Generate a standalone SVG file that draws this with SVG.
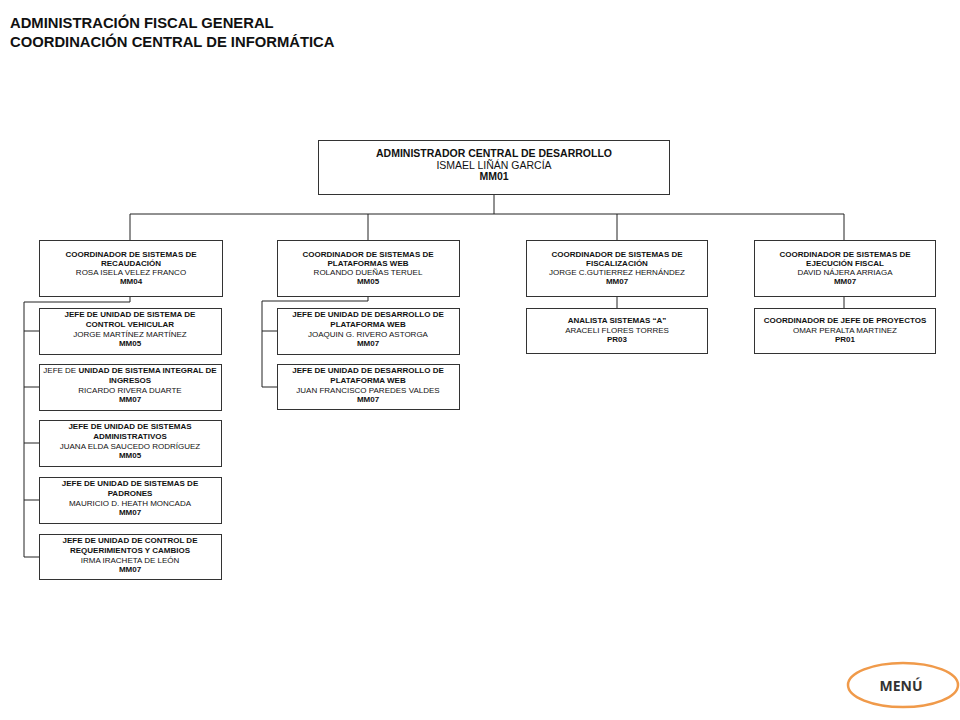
<svg xmlns="http://www.w3.org/2000/svg" width="960" height="720" viewBox="0 0 960 720">
<style>
text{font-family:"Liberation Sans",Arial,sans-serif;fill:#111;}
.t{font-size:14.8px;font-weight:bold;}
.b{font-size:8px;font-weight:bold;text-anchor:middle;}
.r{font-size:8px;text-anchor:middle;}
.bb{font-size:10.5px;font-weight:bold;text-anchor:middle;}
.rb{font-size:10.5px;text-anchor:middle;}
.box{fill:#fff;stroke:#333;stroke-width:1;}
.ln{fill:none;stroke:#222;stroke-width:1;}
</style>
<rect width="960" height="720" fill="#fff"/>
<text class="t" x="10" y="28">ADMINISTRACIÓN FISCAL GENERAL</text>
<text class="t" x="10" y="47">COORDINACIÓN CENTRAL DE INFORMÁTICA</text>
<g id="connectors">
<path class="ln" d="M494 194V214M130 214H844M130 214V240M368 214V240M617 214V240M844 214V240"/>
<path class="ln" d="M130 296V302H24V557M24 331H39M24 387H39M24 443H39M24 500H39M24 557H39"/>
<path class="ln" d="M368 296V301H262V387M262 331H277M262 387H277"/>
<path class="ln" d="M617 296V308M844 296V308"/>
</g>
<g id="n0">
<rect class="box" x="318.5" y="140.5" width="351" height="54"/>
<text class="bb" x="494" y="157">ADMINISTRADOR CENTRAL DE DESARROLLO</text>
<text class="rb" x="494" y="168.5">ISMAEL LIÑÁN GARCÍA</text>
<text class="bb" x="494" y="180">MM01</text>
</g>
<g id="n1">
<rect class="box" x="39.5" y="240.5" width="183" height="56"/>
<text class="b" x="131" y="257">COORDINADOR DE SISTEMAS DE</text>
<text class="b" x="131" y="266">RECAUDACIÓN</text>
<text class="r" x="131" y="275">ROSA ISELA VELEZ FRANCO</text>
<text class="b" x="131" y="284">MM04</text>
</g>
<g id="n2">
<rect class="box" x="277.5" y="240.5" width="182" height="56"/>
<text class="b" x="368" y="257">COORDINADOR DE SISTEMAS DE</text>
<text class="b" x="368" y="266">PLATAFORMAS WEB</text>
<text class="r" x="368" y="275">ROLANDO DUEÑAS TERUEL</text>
<text class="b" x="368" y="284">MM05</text>
</g>
<g id="n3">
<rect class="box" x="526.5" y="240.5" width="181" height="56"/>
<text class="b" x="617" y="257">COORDINADOR DE SISTEMAS DE</text>
<text class="b" x="617" y="266">FISCALIZACIÓN</text>
<text class="r" x="617" y="275">JORGE C.GUTIERREZ HERNÁNDEZ</text>
<text class="b" x="617" y="284">MM07</text>
</g>
<g id="n4">
<rect class="box" x="754.5" y="240.5" width="181" height="56"/>
<text class="b" x="845" y="257">COORDINADOR DE SISTEMAS DE</text>
<text class="b" x="845" y="266">EJECUCIÓN FISCAL</text>
<text class="r" x="845" y="275">DAVID NÁJERA ARRIAGA</text>
<text class="b" x="845" y="284">MM07</text>
</g>
<g id="n5">
<rect class="box" x="39.5" y="308.5" width="182" height="46"/>
<text class="b" x="130" y="317">JEFE DE UNIDAD DE SISTEMA DE</text>
<text class="b" x="130" y="327">CONTROL VEHICULAR</text>
<text class="r" x="130" y="337">JORGE MARTÍNEZ MARTÍNEZ</text>
<text class="b" x="130" y="346">MM05</text>
</g>
<g id="n6">
<rect class="box" x="39.5" y="364.5" width="182" height="46"/>
<text class="b" x="130" y="373"><tspan font-weight="normal">JEFE DE </tspan>UNIDAD DE SISTEMA INTEGRAL DE</text>
<text class="b" x="130" y="383">INGRESOS</text>
<text class="r" x="130" y="393">RICARDO RIVERA DUARTE</text>
<text class="b" x="130" y="402">MM07</text>
</g>
<g id="n7">
<rect class="box" x="39.5" y="420.5" width="182" height="46"/>
<text class="b" x="130" y="429">JEFE DE UNIDAD DE SISTEMAS</text>
<text class="b" x="130" y="439">ADMINISTRATIVOS</text>
<text class="r" x="130" y="449">JUANA ELDA SAUCEDO RODRÍGUEZ</text>
<text class="b" x="130" y="458">MM05</text>
</g>
<g id="n8">
<rect class="box" x="39.5" y="477.5" width="182" height="46"/>
<text class="b" x="130" y="486">JEFE DE UNIDAD DE SISTEMAS DE</text>
<text class="b" x="130" y="496">PADRONES</text>
<text class="r" x="130" y="506">MAURICIO D. HEATH MONCADA</text>
<text class="b" x="130" y="515">MM07</text>
</g>
<g id="n9">
<rect class="box" x="39.5" y="534.5" width="182" height="45"/>
<text class="b" x="130" y="543">JEFE DE UNIDAD DE CONTROL DE</text>
<text class="b" x="130" y="553">REQUERIMIENTOS Y CAMBIOS</text>
<text class="r" x="130" y="563">IRMA IRACHETA DE LEÓN</text>
<text class="b" x="130" y="572">MM07</text>
</g>
<g id="n10">
<rect class="box" x="277.5" y="308.5" width="182" height="46"/>
<text class="b" x="368" y="317">JEFE DE UNIDAD DE DESARROLLO DE</text>
<text class="b" x="368" y="327">PLATAFORMA WEB</text>
<text class="r" x="368" y="337">JOAQUIN G. RIVERO ASTORGA</text>
<text class="b" x="368" y="346">MM07</text>
</g>
<g id="n11">
<rect class="box" x="277.5" y="364.5" width="182" height="45"/>
<text class="b" x="368" y="373">JEFE DE UNIDAD DE DESARROLLO DE</text>
<text class="b" x="368" y="383">PLATAFORMA WEB</text>
<text class="r" x="368" y="393">JUAN FRANCISCO PAREDES VALDES</text>
<text class="b" x="368" y="402">MM07</text>
</g>
<g id="n12">
<rect class="box" x="526.5" y="308.5" width="181" height="45"/>
<text class="b" x="617" y="323">ANALISTA SISTEMAS “A”</text>
<text class="r" x="617" y="333">ARACELI FLORES TORRES</text>
<text class="b" x="617" y="342">PR03</text>
</g>
<g id="n13">
<rect class="box" x="754.5" y="308.5" width="181" height="45"/>
<text class="b" x="845" y="323">COORDINADOR DE JEFE DE PROYECTOS</text>
<text class="r" x="845" y="333">OMAR PERALTA MARTINEZ</text>
<text class="b" x="845" y="342">PR01</text>
</g>
<g id="menu">
<ellipse cx="903" cy="685" rx="55" ry="22" fill="#fff" stroke="#F09A4A" stroke-width="2.5"/>
<text x="901" y="691" text-anchor="middle" style="font-family:'Noto Sans','Open Sans',sans-serif;font-size:14px;font-weight:bold;fill:#333">MENÚ</text>
</g>
</svg>
